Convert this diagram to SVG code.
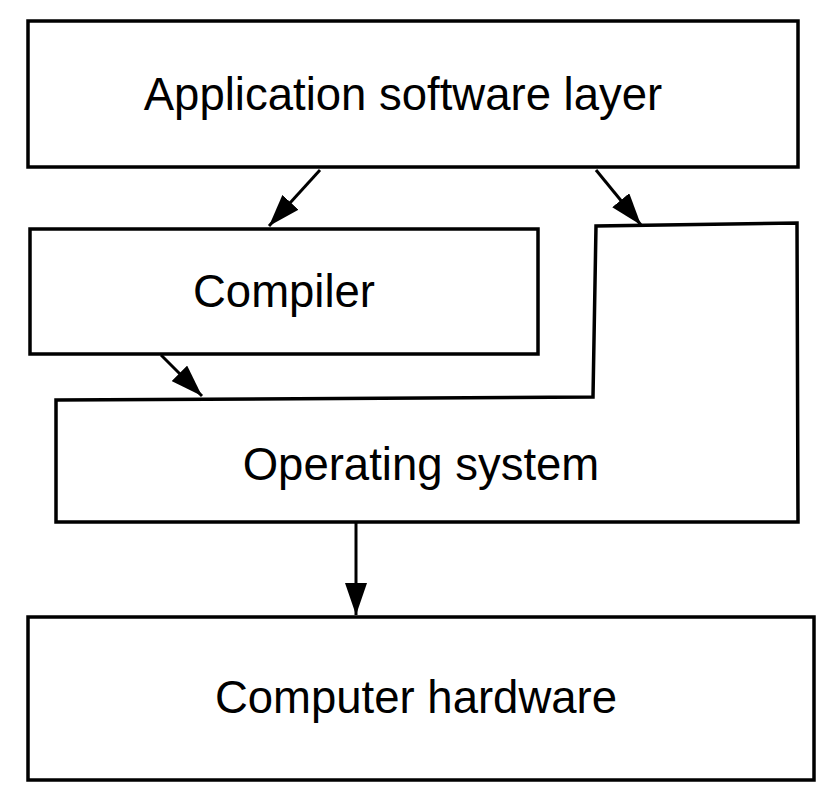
<svg xmlns="http://www.w3.org/2000/svg" width="840" height="808" viewBox="0 0 840 808">
<style>
.box{fill:#fff;stroke:#000;stroke-width:3.5}
.lbl{font-family:"Liberation Sans",Arial,sans-serif;font-size:45.5px;fill:#000;text-anchor:middle}
.edge{stroke:#000;stroke-width:3;fill:none}
</style>
<defs>
<marker id="ah" viewBox="0 0 32 22" refX="32" refY="11" markerWidth="32" markerHeight="22" markerUnits="userSpaceOnUse" orient="auto">
<path d="M0,0 L32,11 L0,22 Z" fill="#000"/>
</marker>
</defs>
<g id="app">
<rect class="box" x="28" y="21" width="770" height="146"/>
<text class="lbl" x="403" y="110">Application software layer</text>
</g>
<g id="compiler">
<rect class="box" x="30" y="229" width="508" height="125"/>
<text class="lbl" x="284" y="307">Compiler</text>
</g>
<g id="os">
<path class="box" d="M56,400 L593,397 L596,226 L797,223 L798,522 L56,522 Z"/>
<text class="lbl" x="421" y="480">Operating system</text>
</g>
<g id="hw">
<rect class="box" x="28" y="617" width="786" height="163"/>
<text class="lbl" x="416" y="713">Computer hardware</text>
</g>
<g id="connectors">
<line class="edge" x1="320" y1="170" x2="269" y2="226" marker-end="url(#ah)"/>
<line class="edge" x1="596" y1="170" x2="641" y2="225" marker-end="url(#ah)"/>
<line class="edge" x1="161" y1="355" x2="202" y2="396" marker-end="url(#ah)"/>
<line class="edge" x1="356" y1="522" x2="356" y2="615" marker-end="url(#ah)"/>
</g>
</svg>
